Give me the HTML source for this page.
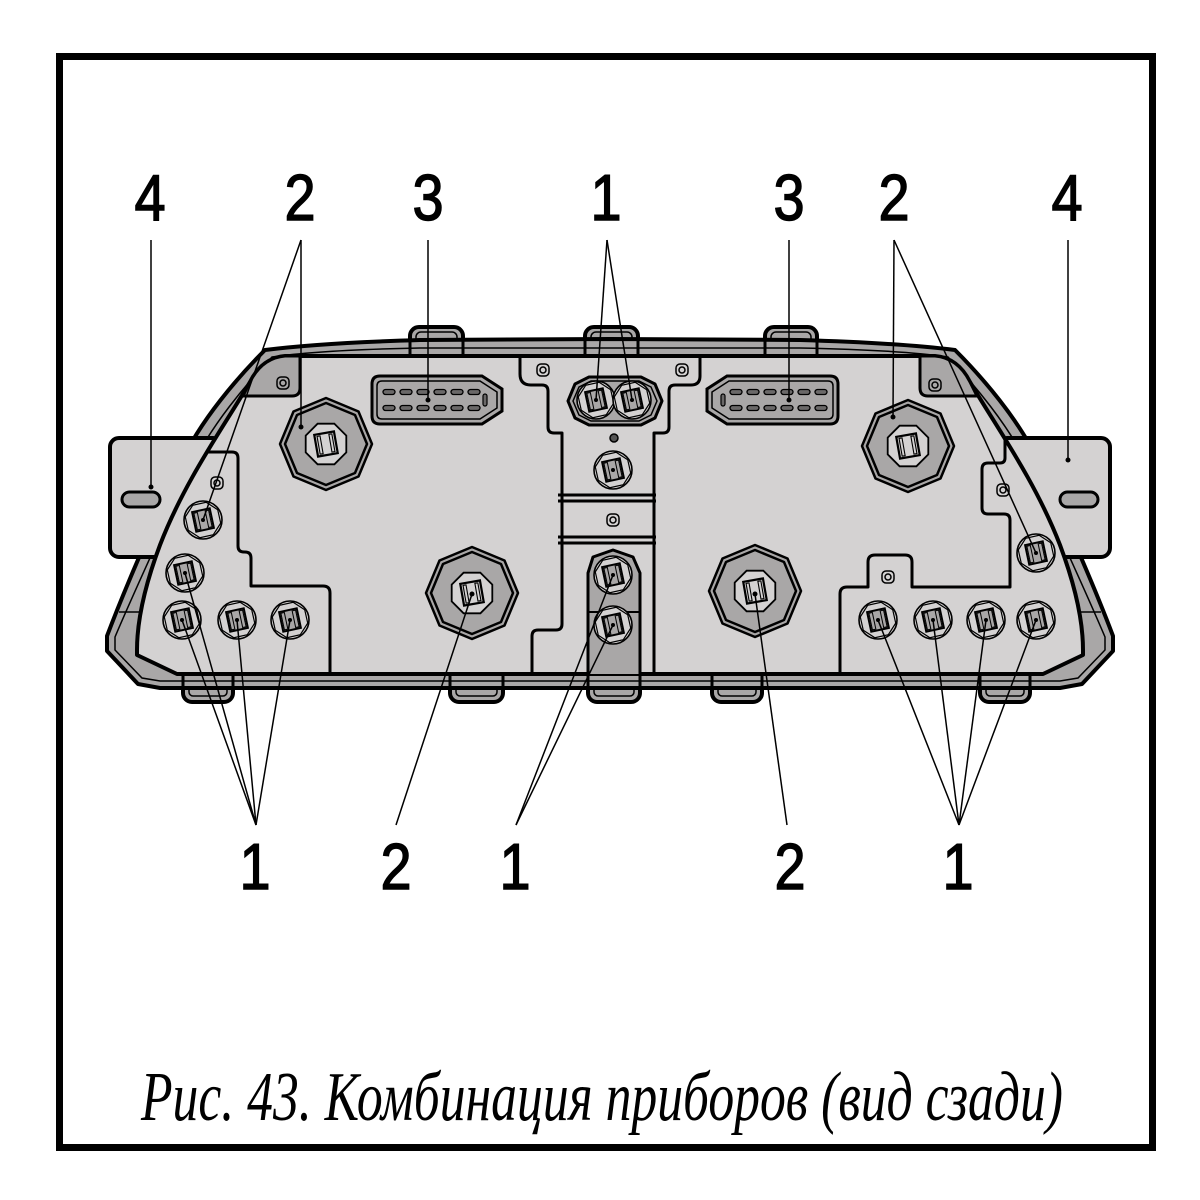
<!DOCTYPE html>
<html><head><meta charset="utf-8"><style>html,body{margin:0;padding:0;background:#fff}svg{display:block}</style></head>
<body>
<svg width="1200" height="1200" viewBox="0 0 1200 1200" xmlns="http://www.w3.org/2000/svg">
<defs>
<g id="conn">
  <circle r="19" fill="#d4d2d2" stroke="#000" stroke-width="1.6"/>
  <polygon points="0,-18 12.7,-12.7 18,0 12.7,12.7 0,18 -12.7,12.7 -18,0 -12.7,-12.7" fill="none" stroke="#000" stroke-width="1.2" transform="rotate(10)"/>
  <g transform="rotate(-12)">
    <rect x="-9" y="-10" width="18" height="20" fill="#a9a7a7" stroke="#000" stroke-width="2"/>
    <rect x="-7.5" y="-8.5" width="3.5" height="17" fill="none" stroke="#000" stroke-width="1"/>
    <rect x="4" y="-8.5" width="3.5" height="17" fill="none" stroke="#000" stroke-width="1"/>
  </g>
  <circle r="2" fill="#000"/>
</g>
<g id="oct">
  <polygon points="0,-46 32.5,-32.5 46,0 32.5,32.5 0,46 -32.5,32.5 -46,0 -32.5,-32.5" fill="#a9a7a7" stroke="#000" stroke-width="2.5" stroke-linejoin="round"/>
  <polygon points="0,-41 29,-29 41,0 29,29 0,41 -29,29 -41,0 -29,-29" fill="none" stroke="#000" stroke-width="2.5" stroke-linejoin="round"/>
  <polygon points="8.4,-20.3 20.3,-8.4 20.3,8.4 8.4,20.3 -8.4,20.3 -20.3,8.4 -20.3,-8.4 -8.4,-20.3" fill="#d4d2d2" stroke="#000" stroke-width="1.8"/>
  <g transform="rotate(-10)">
    <rect x="-10" y="-11" width="20" height="22" fill="#d4d2d2" stroke="#000" stroke-width="2.2"/>
    <rect x="-7.5" y="-9" width="3" height="18" fill="#d4d2d2" stroke="#000" stroke-width="1.1"/>
    <rect x="4.5" y="-9" width="3" height="18" fill="#d4d2d2" stroke="#000" stroke-width="1.1"/>
  </g>
</g>
<g id="screw">
  <rect x="-6" y="-6" width="12" height="12" rx="4" fill="none" stroke="#000" stroke-width="1.5"/>
  <circle r="3" fill="none" stroke="#000" stroke-width="1.5"/>
</g>
<g id="pin"><rect x="0" y="-2.5" width="12" height="5" rx="2.5" fill="#6a6868" stroke="#000" stroke-width="1.3"/></g>
</defs>

<rect width="1200" height="1200" fill="#fff"/>
<rect x="59.5" y="56.5" width="1093" height="1091" fill="none" stroke="#000" stroke-width="7"/>

<!-- tabs (behind shell) -->
<g fill="#a9a7a7" stroke="#000" stroke-width="4">
  <rect x="410" y="327" width="53" height="30" rx="9"/>
  <rect x="585" y="327" width="53" height="30" rx="9"/>
  <rect x="765" y="327" width="52" height="30" rx="9"/>
  <rect x="183" y="668" width="50" height="34" rx="9"/>
  <rect x="450" y="668" width="53" height="34" rx="9"/>
  <rect x="588" y="668" width="52" height="34" rx="9"/>
  <rect x="712" y="668" width="50" height="34" rx="9"/>
  <rect x="980" y="668" width="50" height="34" rx="9"/>
</g>
<g fill="none" stroke="#000" stroke-width="1.5">
  <rect x="416" y="332" width="41" height="12" rx="5"/>
  <rect x="591" y="332" width="41" height="12" rx="5"/>
  <rect x="771" y="332" width="40" height="12" rx="5"/>
  <rect x="189" y="686" width="38" height="10" rx="4"/>
  <rect x="456" y="686" width="41" height="10" rx="4"/>
  <rect x="594" y="686" width="40" height="10" rx="4"/>
  <rect x="718" y="686" width="38" height="10" rx="4"/>
  <rect x="986" y="686" width="38" height="10" rx="4"/>
</g>

<!-- outer shell -->
<path d="M 610 339 L 420 340 Q 320 343 265 350 C 240 375 200 420 180 465 C 160 510 130 575 107 636 L 107 651 L 138 684 L 160 688 L 1060 688 L 1082 684 L 1113 651 L 1113 636 C 1090 575 1060 510 1040 465 C 1020 420 980 375 955 350 Q 900 343 800 340 Z" fill="#a9a7a7" stroke="#000" stroke-width="4" stroke-linejoin="round"/>
<path d="M 420 348 Q 320 350 272 357 C 248 382 210 426 190 470 C 170 515 140 578 115 637 L 115 650 L 142 678 L 160 681 L 1060 681 L 1078 678 L 1105 650 L 1105 637 C 1080 578 1050 515 1030 470 C 1010 426 972 382 948 357 Q 900 350 800 348 Z" fill="none" stroke="#000" stroke-width="1.5"/>
<g stroke="#000" stroke-width="1.5">
  <line x1="119" y1="612" x2="142" y2="612"/>
  <line x1="1078" y1="612" x2="1101" y2="612"/>
</g>
<!-- tab sides across rails -->
<g stroke="#000" stroke-width="3">
  <line x1="410" y1="340" x2="410" y2="356"/><line x1="463" y1="340" x2="463" y2="356"/>
  <line x1="585" y1="340" x2="585" y2="356"/><line x1="638" y1="340" x2="638" y2="356"/>
  <line x1="765" y1="340" x2="765" y2="356"/><line x1="817" y1="340" x2="817" y2="356"/>
  <line x1="183" y1="674" x2="183" y2="688"/><line x1="233" y1="674" x2="233" y2="688"/>
  <line x1="450" y1="674" x2="450" y2="688"/><line x1="503" y1="674" x2="503" y2="688"/>
  <line x1="588" y1="674" x2="588" y2="688"/><line x1="640" y1="674" x2="640" y2="688"/>
  <line x1="712" y1="674" x2="712" y2="688"/><line x1="762" y1="674" x2="762" y2="688"/>
  <line x1="980" y1="674" x2="980" y2="688"/><line x1="1030" y1="674" x2="1030" y2="688"/>
</g>

<!-- brackets -->
<rect x="110" y="438" width="112" height="119" rx="9" fill="#d4d2d2" stroke="#000" stroke-width="4"/>
<rect x="998" y="438" width="112" height="119" rx="9" fill="#d4d2d2" stroke="#000" stroke-width="4"/>
<rect x="122" y="492" width="38" height="15" rx="7.5" fill="#a9a7a7" stroke="#000" stroke-width="3"/>
<rect x="1060" y="492" width="38" height="15" rx="7.5" fill="#a9a7a7" stroke="#000" stroke-width="3"/>

<!-- face -->
<path d="M 285 356 Q 262 358 250 382 C 225 425 185 480 160 545 C 145 585 137 620 137 650 L 137 655 L 177 674 L 1043 674 L 1083 655 L 1083 650 C 1083 620 1075 585 1060 545 C 1035 480 995 425 970 382 Q 958 358 935 356 Z" fill="#d4d2d2" stroke="#000" stroke-width="4" stroke-linejoin="round"/>

<!-- corner pieces -->
<path d="M 285 356 Q 262 358 250 382 L 243 396 L 292 396 Q 300 396 300 388 L 300 356 Z" fill="#a9a7a7" stroke="#000" stroke-width="3" stroke-linejoin="round"/>
<path d="M 935 356 Q 958 358 970 382 L 977 396 L 928 396 Q 920 396 920 388 L 920 356 Z" fill="#a9a7a7" stroke="#000" stroke-width="3" stroke-linejoin="round"/>

<!-- panel outlines -->
<g fill="none" stroke="#000" stroke-width="3" stroke-linejoin="round">
  <path d="M 520 356 L 520 374 Q 520 385 531 385 L 542 385 Q 548 385 548 391 L 548 427 Q 548 433 554 433 L 562 433 L 562 624 Q 562 630 556 630 L 538 630 Q 532 630 532 636 L 532 674"/>
  <path d="M 700 356 L 700 376 Q 700 385 691 385 L 675 385 Q 669 385 669 391 L 669 427 Q 669 433 663 433 L 654 433 L 654 674"/>
  <path d="M 207 452 L 232 452 Q 238 452 238 458 L 238 546 Q 238 552 244 552 L 245 552 Q 251 552 251 558 L 251 586 L 323 586 Q 330 586 330 593 L 330 674"/>
  <path d="M 1005 437 L 1005 458 Q 1005 463 1000 463 L 988 463 Q 982 463 982 469 L 982 508 Q 982 514 988 514 L 1004 514 Q 1010 514 1010 520 L 1010 587 L 912 587 L 912 562 Q 912 555 905 555 L 875 555 Q 868 555 868 562 L 868 587 L 847 587 Q 840 587 840 594 L 840 674"/>
  <line x1="558" y1="495" x2="656" y2="495"/>
  <line x1="558" y1="501" x2="656" y2="501"/>
  <line x1="558" y1="537" x2="656" y2="537"/>
  <line x1="558" y1="543" x2="656" y2="543"/>
</g>

<!-- multi-pin connectors (3) -->
<path d="M 380 376 L 482 376 L 502 389 L 502 411 L 482 424 L 380 424 Q 372 424 372 416 L 372 384 Q 372 376 380 376 Z" fill="#a9a7a7" stroke="#000" stroke-width="3"/>
<path d="M 382 381 L 480 381 L 497 392 L 497 408 L 480 419 L 382 419 Q 377 419 377 414 L 377 386 Q 377 381 382 381 Z" fill="none" stroke="#000" stroke-width="1.5"/>
<g>
  <use href="#pin" x="383" y="392"/><use href="#pin" x="400" y="392"/><use href="#pin" x="417" y="392"/><use href="#pin" x="434" y="392"/><use href="#pin" x="451" y="392"/><use href="#pin" x="468" y="392"/>
  <use href="#pin" x="383" y="408"/><use href="#pin" x="400" y="408"/><use href="#pin" x="417" y="408"/><use href="#pin" x="434" y="408"/><use href="#pin" x="451" y="408"/><use href="#pin" x="468" y="408"/>
</g>
<rect x="483" y="394" width="4" height="12" rx="2" fill="#6a6868" stroke="#000" stroke-width="1.2"/>

<path d="M 727 376 L 830 376 Q 838 376 838 384 L 838 416 Q 838 424 830 424 L 727 424 L 707 411 L 707 389 Z" fill="#a9a7a7" stroke="#000" stroke-width="3"/>
<path d="M 729 381 L 828 381 Q 833 381 833 386 L 833 414 Q 833 419 828 419 L 729 419 L 712 408 L 712 392 Z" fill="none" stroke="#000" stroke-width="1.5"/>
<g>
  <use href="#pin" x="730" y="392"/><use href="#pin" x="747" y="392"/><use href="#pin" x="764" y="392"/><use href="#pin" x="781" y="392"/><use href="#pin" x="798" y="392"/><use href="#pin" x="815" y="392"/>
  <use href="#pin" x="730" y="408"/><use href="#pin" x="747" y="408"/><use href="#pin" x="764" y="408"/><use href="#pin" x="781" y="408"/><use href="#pin" x="798" y="408"/><use href="#pin" x="815" y="408"/>
</g>
<rect x="721" y="394" width="4" height="12" rx="2" fill="#6a6868" stroke="#000" stroke-width="1.2"/>

<!-- gauges (2) -->
<use href="#oct" x="326" y="444"/>
<use href="#oct" x="472" y="593"/>
<use href="#oct" x="908" y="446"/>
<use href="#oct" x="755" y="591"/>

<!-- center housings -->
<polygon points="568,401 575,384 589,377 641,377 655,384 662,401 655,418 641,425 589,425 575,418" fill="#a9a7a7" stroke="#000" stroke-width="3" stroke-linejoin="round"/>
<polygon points="573,401 579,387 591,381 639,381 651,387 657,401 651,415 639,421 591,421 579,415" fill="none" stroke="#000" stroke-width="1.5"/>
<path d="M 588 674 L 588 573 L 593 557 L 613 550 L 633 557 L 640 573 L 640 674" fill="#a9a7a7" stroke="#000" stroke-width="3" stroke-linejoin="round"/>
<line x1="588" y1="612" x2="640" y2="612" stroke="#000" stroke-width="2"/>

<!-- round connectors (1) -->
<use href="#conn" x="203" y="520"/>
<use href="#conn" x="185" y="573"/>
<use href="#conn" x="182" y="620"/>
<use href="#conn" x="237" y="620"/>
<use href="#conn" x="290" y="620"/>
<use href="#conn" x="596" y="400"/>
<use href="#conn" x="632" y="400"/>
<use href="#conn" x="613" y="470"/>
<use href="#conn" x="613" y="575"/>
<use href="#conn" x="613" y="625"/>
<use href="#conn" x="1036" y="553"/>
<use href="#conn" x="878" y="620"/>
<use href="#conn" x="933" y="620"/>
<use href="#conn" x="986" y="620"/>
<use href="#conn" x="1036" y="620"/>

<!-- screws -->
<use href="#screw" x="283" y="383"/>
<use href="#screw" x="935" y="385"/>
<use href="#screw" x="543" y="370"/>
<use href="#screw" x="682" y="370"/>
<use href="#screw" x="613" y="520"/>
<use href="#screw" x="217" y="483"/>
<use href="#screw" x="888" y="577"/>
<use href="#screw" x="1003" y="490"/>
<circle cx="614" cy="438" r="4" fill="#555" stroke="#000" stroke-width="1.5"/>

<!-- leader lines -->
<g stroke="#000" stroke-width="1.5" fill="none">
  <line x1="151" y1="240" x2="151" y2="487"/>
  <line x1="301" y1="240" x2="301" y2="427"/>
  <line x1="301" y1="240" x2="203" y2="520"/>
  <line x1="428" y1="240" x2="428" y2="400"/>
  <line x1="607" y1="240" x2="596" y2="400"/>
  <line x1="607" y1="240" x2="632" y2="400"/>
  <line x1="789" y1="240" x2="789" y2="400"/>
  <line x1="894" y1="240" x2="893" y2="417"/>
  <line x1="894" y1="240" x2="1036" y2="553"/>
  <line x1="1068" y1="240" x2="1068" y2="460"/>

  <line x1="256" y1="825" x2="185" y2="573"/>
  <line x1="256" y1="825" x2="182" y2="620"/>
  <line x1="256" y1="825" x2="237" y2="620"/>
  <line x1="256" y1="825" x2="290" y2="620"/>
  <line x1="396" y1="825" x2="472" y2="594"/>
  <line x1="516" y1="825" x2="613" y2="575"/>
  <line x1="516" y1="825" x2="613" y2="625"/>
  <line x1="787" y1="825" x2="755" y2="594"/>
  <line x1="959" y1="825" x2="878" y2="620"/>
  <line x1="959" y1="825" x2="933" y2="620"/>
  <line x1="959" y1="825" x2="986" y2="620"/>
  <line x1="959" y1="825" x2="1036" y2="620"/>
</g>
<g fill="#000">
  <circle cx="151" cy="487" r="2.5"/>
  <circle cx="301" cy="427" r="2.5"/>
  <circle cx="428" cy="400" r="2.5"/>
  <circle cx="789" cy="400" r="2.5"/>
  <circle cx="893" cy="417" r="2.5"/>
  <circle cx="1068" cy="460" r="2.5"/>
  <circle cx="472" cy="594" r="2.5"/>
  <circle cx="755" cy="594" r="2.5"/>
</g>

<!-- labels -->
<g font-family="'Liberation Sans', sans-serif" font-size="65" text-anchor="middle" fill="#000" stroke="#000" stroke-width="1.4">
  <text transform="translate(150,220) scale(0.86,1)">4</text>
  <text transform="translate(300,220) scale(0.86,1)">2</text>
  <text transform="translate(428,220) scale(0.86,1)">3</text>
  <text transform="translate(606,220) scale(0.86,1)">1</text>
  <text transform="translate(789,220) scale(0.86,1)">3</text>
  <text transform="translate(894,220) scale(0.86,1)">2</text>
  <text transform="translate(1067,220) scale(0.86,1)">4</text>
  <text transform="translate(255,889) scale(0.86,1)">1</text>
  <text transform="translate(396,889) scale(0.86,1)">2</text>
  <text transform="translate(515,889) scale(0.86,1)">1</text>
  <text transform="translate(790,889) scale(0.86,1)">2</text>
  <text transform="translate(958,889) scale(0.86,1)">1</text>
</g>

<text x="141" y="1120" font-family="'Liberation Serif', serif" font-style="italic" font-size="70" textLength="922" lengthAdjust="spacingAndGlyphs" fill="#000">Рис. 43. Комбинация приборов (вид сзади)</text>
</svg>
</body></html>
